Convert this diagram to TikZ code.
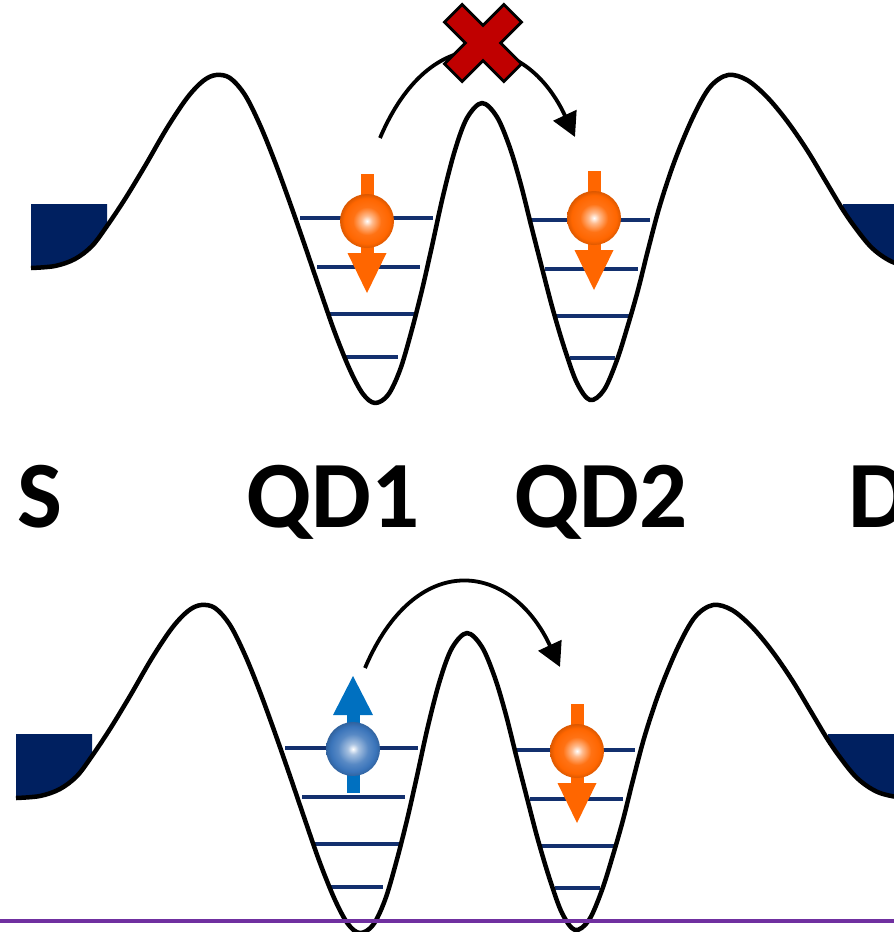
\documentclass[tikz,border=0pt]{standalone}
\usepackage{fontspec}
\setmainfont{Carlito}
\usetikzlibrary{arrows.meta}

\definecolor{leadblue}{HTML}{002060}
\definecolor{levelblue}{HTML}{13306E}
\definecolor{spinorange}{HTML}{FF6600}
\definecolor{spinblue}{HTML}{0070C0}
\definecolor{ballblue}{HTML}{3A74BA}
\definecolor{crossred}{HTML}{C00000}
\definecolor{floorpurple}{HTML}{7030A0}

% spheres: bright centre fading to the body colour
\pgfdeclareradialshading{orangeball}{\pgfpoint{0bp}{0bp}}{%
  color(0bp)=(white); color(5bp)=(white!55!spinorange);
  color(13bp)=(spinorange!92!white); color(21bp)=(spinorange);
  color(25bp)=(spinorange!86!black); color(50bp)=(spinorange!86!black)}
\pgfdeclareradialshading{blueball}{\pgfpoint{0bp}{0bp}}{%
  color(0bp)=(white); color(5bp)=(white!55!ballblue);
  color(14bp)=(ballblue!85!white); color(21bp)=(ballblue);
  color(25bp)=(ballblue!85!black); color(50bp)=(ballblue!85!black)}

\tikzset{
  potline/.style={line width=4.5pt, black, line join=round},
  levelline/.style={line width=4pt, levelblue},
  hop/.style={line width=3.8pt, black, -{Triangle[length=24pt,width=25pt]}},
  crossmark/.style={fill=crossred, draw=black, line width=2.8pt, line join=miter},
  dotlabel/.style={font=\fontsize{95}{105}\selectfont\bfseries, inner sep=0pt, anchor=base west},
  % double-well potential with the two leads and the dot levels
  potential/.pic={
    \begin{scope}
      \clip (31,204) rectangle (107,300) (843,204) rectangle (920,300);
      \fill[leadblue] (31,0) -- plot[smooth,tension=0.55] coordinates {
        (31,268) (55,266) (75,259) (92,246) (107,226) (125,199) (145,166)
        (167,128) (187,98) (203,81) (216,75) (230,78) (245,95) (260,125)
        (275,162) (290,203) (305,246) (320,290) (335,333) (350,370) (363,394)
        (375,403) (388,395) (400,370) (411,333) (422,290) (432,246) (443,196)
        (455,150) (467,118) (482,103) (497,117) (510,148) (521,185) (531,225)
        (542,268) (553,310) (565,350) (577,383) (590,400) (604,390) (617,360)
        (628,325) (638,290) (648,250) (660,205) (675,160) (693,117) (710,87)
        (728,75) (747,80) (767,97) (787,121) (807,150) (825,180) (843,210)
        (857,230) (870,246) (882,256) (895,263) (912,267) (930,268)}
        -- (930,0) -- cycle;
    \end{scope}
    \draw[levelline] (300,218) -- (433,218);
    \draw[levelline] (317,267) -- (420,267);
    \draw[levelline] (329,314) -- (414,314);
    \draw[levelline] (345,357) -- (398,357);
    \draw[levelline] (528,220) -- (650,220);
    \draw[levelline] (545,269) -- (638,269);
    \draw[levelline] (556,316) -- (632,316);
    \draw[levelline] (570,358) -- (615,358);
    \draw[potline] plot[smooth,tension=0.55] coordinates {
        (31,268) (55,266) (75,259) (92,246) (107,226) (125,199) (145,166)
        (167,128) (187,98) (203,81) (216,75) (230,78) (245,95) (260,125)
        (275,162) (290,203) (305,246) (320,290) (335,333) (350,370) (363,394)
        (375,403) (388,395) (400,370) (411,333) (422,290) (432,246) (443,196)
        (455,150) (467,118) (482,103) (497,117) (510,148) (521,185) (531,225)
        (542,268) (553,310) (565,350) (577,383) (590,400) (604,390) (617,360)
        (628,325) (638,290) (648,250) (660,205) (675,160) (693,117) (710,87)
        (728,75) (747,80) (767,97) (787,121) (807,150) (825,180) (843,210)
        (857,230) (870,246) (882,256) (895,263) (912,267) (930,268)};
  },
  spindown/.pic={
    \fill[spinorange] (-6.5,-47) rectangle (6.5,34);
    \fill[spinorange] (-19.5,32) -- (19.5,32) -- (0,72) -- cycle;
    \shade[shading=orangeball] (0,0) circle (27);
  },
  spinup/.pic={
    \fill[spinblue] (-6.5,-36) rectangle (6.5,44);
    \fill[spinblue] (-20,-34) -- (20,-34) -- (0,-73) -- cycle;
    \shade[shading=blueball] (0,0) circle (27);
  }
}

\begin{document}
\begin{tikzpicture}[x=1pt,y=-1pt]
  \useasboundingbox (0,0) rectangle (894,932);
  \clip (0,0) rectangle (894,932);

  % upper panel: parallel spins, hop blocked
  \pic (upperwell) at (0,0) {potential};
  \pic (spinA) at (367,221) {spindown};
  \pic (spinB) at (594,218) {spindown};
  \coordinate (hopAstart) at (380,138);
  \coordinate (hopAend) at (575,137);
  \draw[hop] (hopAstart) .. controls (430,20) and (525,30) .. (hopAend);
  \draw[crossmark, shift={(483,43)}, rotate=45]
    (12.5,12.5) -- (42,12.5) -- (42,-12.5) -- (12.5,-12.5) -- (12.5,-42)
    -- (-12.5,-42) -- (-12.5,-12.5) -- (-42,-12.5) -- (-42,12.5)
    -- (-12.5,12.5) -- (-12.5,42) -- (12.5,42) -- cycle;

  % labels
  \node[dotlabel] (lblS) at (17,527) {S};
  \node[dotlabel] (lblQA) at (246,527) {QD1};
  \node[dotlabel] (lblQB) at (514,527) {QD2};
  \node[dotlabel] (lblD) at (848,527) {D};

  % lower panel: antiparallel spins, hop allowed
  \pic (lowerwell) at (-15,530) {potential};
  \pic (spinC) at (353,749) {spinup};
  \pic (spinD) at (577,751) {spindown};
  \coordinate (hopBstart) at (365,668);
  \coordinate (hopBend) at (560,667);
  \draw[hop] (hopBstart) .. controls (415,550) and (510,560) .. (hopBend);

  % floor line
  \coordinate (floorL) at (0,921);
  \coordinate (floorR) at (894,921);
  \draw[floorpurple, line width=3.5pt] (floorL) -- (floorR);
\end{tikzpicture}
\end{document}
